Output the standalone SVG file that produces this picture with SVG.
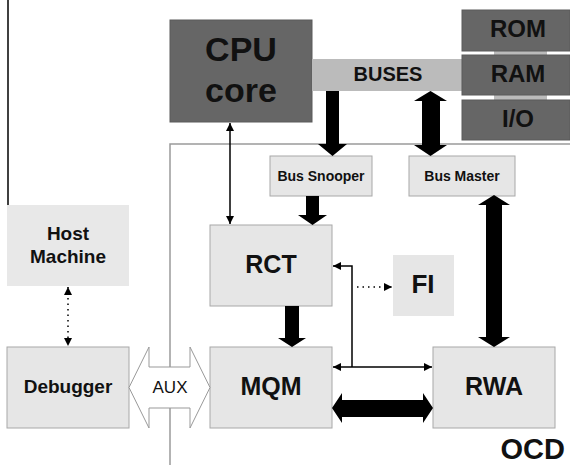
<svg xmlns="http://www.w3.org/2000/svg" width="570" height="465" viewBox="0 0 570 465">
<style>
text{font-family:"Liberation Sans",Arial,sans-serif;font-weight:bold;text-anchor:middle;fill:#111}
.box{fill:#e6e6e6;stroke:#a8a8a8;stroke-width:1}
.dark{fill:#666666;stroke:#5a5a5a;stroke-width:1}
.thin{stroke:#000;stroke-width:1.5;fill:none}
.dot{stroke:#000;stroke-width:1.5;fill:none;stroke-dasharray:1.5 4}
.thick{fill:#000}
.ocd{stroke:#9a9a9a;stroke-width:1.5;fill:none}
</style>
<defs>
<marker id="ah" viewBox="0 0 10 10" refX="10" refY="5" markerWidth="8" markerHeight="8" markerUnits="userSpaceOnUse" orient="auto-start-reverse">
<path d="M0,0 L10,5 L0,10 z" fill="#000"/>
</marker>
</defs>
<rect width="570" height="465" fill="#fff"/>
<line x1="8" y1="0" x2="8" y2="238" stroke="#000" stroke-width="1.5"/>
<g id="ocd-border">
<path class="ocd" d="M170,465 L170,144 L570,144"/>
<text x="565" y="459" font-size="29" style="text-anchor:end">OCD</text>
</g>
<g id="cpu">
<rect class="dark" x="170" y="20" width="142" height="102"/>
<text x="241" y="61" font-size="34">CPU</text>
<text x="241" y="102" font-size="34">core</text>
</g>
<g id="memstrips">
<rect x="494" y="50" width="53" height="6" fill="#bbbbbb"/>
<rect x="494" y="94" width="53" height="6" fill="#bbbbbb"/>
</g>
<g id="buses">
<rect x="312" y="59" width="150" height="32" fill="#bbbbbb"/>
<text x="388" y="81" font-size="20">BUSES</text>
</g>
<g id="rom">
<rect class="dark" x="462" y="10" width="108" height="41"/>
<text x="518" y="37" font-size="24">ROM</text>
</g>
<g id="ram">
<rect class="dark" x="462" y="55" width="108" height="40"/>
<text x="518" y="82" font-size="24">RAM</text>
</g>
<g id="io">
<rect class="dark" x="462" y="100" width="108" height="40"/>
<text x="518" y="127" font-size="24">I/O</text>
</g>
<g id="bus-snooper">
<rect class="box" x="270" y="156" width="102" height="40"/>
<text x="321" y="181" font-size="14">Bus Snooper</text>
</g>
<g id="bus-master">
<rect class="box" x="409" y="156" width="106" height="40"/>
<text x="462" y="181" font-size="14">Bus Master</text>
</g>
<g id="host">
<rect x="7" y="205" width="122" height="81" fill="#e8e8e8"/>
<text x="68" y="240" font-size="19">Host</text>
<text x="68" y="263" font-size="19">Machine</text>
</g>
<g id="rct">
<rect class="box" x="210" y="225" width="122" height="81"/>
<text x="271" y="273" font-size="25">RCT</text>
</g>
<g id="fi">
<rect x="393" y="255" width="61" height="61" fill="#e6e6e6"/>
<text x="423" y="293" font-size="26">FI</text>
</g>
<g id="debugger">
<rect class="box" x="7" y="347" width="122" height="81"/>
<text x="68" y="393" font-size="19">Debugger</text>
</g>
<g id="mqm">
<rect class="box" x="210" y="347" width="122" height="81"/>
<text x="271" y="395" font-size="25">MQM</text>
</g>
<g id="rwa">
<rect class="box" x="433" y="347" width="122" height="81"/>
<text x="494" y="395" font-size="25">RWA</text>
</g>
<g id="connectors">
<polygon class="thick" points="326,91 339,91 339,144 347,144 332.5,156 318,144 326,144"/>
<polygon class="thick" points="430.5,91 447,101 440,101 440,145 447,145 430.5,156 414,145 422,145 422,101 414,101"/>
<polygon class="thick" points="306,196 319,196 319,215 327,215 312.5,225 298,215 306,215"/>
<polygon class="thick" points="285,306 299,306 299,338 306,338 292,347 278,338 285,338"/>
<polygon class="thick" points="494,195 510,205 502,205 502,337 510,337 494,347 478,337 486,337 486,205 478,205"/>
<polygon class="thick" points="332,408 342,393 342,400 423,400 423,393 433,408 423,423 423,417 342,417 342,423"/>
<line class="thin" x1="230" y1="123" x2="230" y2="224" marker-start="url(#ah)" marker-end="url(#ah)"/>
<polyline class="thin" points="352,367 352,266 333,266" marker-end="url(#ah)"/>
<line class="thin" x1="333" y1="367" x2="432" y2="367" marker-start="url(#ah)" marker-end="url(#ah)"/>
<line class="dot" x1="357" y1="287" x2="392" y2="287" marker-end="url(#ah)"/>
<line class="dot" x1="68" y1="287" x2="68" y2="346" marker-start="url(#ah)" marker-end="url(#ah)"/>
<polygon points="129,387.5 149,347 149,367 190,367 190,347 210,387.5 190,428 190,408 149,408 149,428" fill="#fff" stroke="#999" stroke-width="1"/>
<text x="170" y="393" font-size="17" style="font-weight:normal">AUX</text>
</g>
</svg>
